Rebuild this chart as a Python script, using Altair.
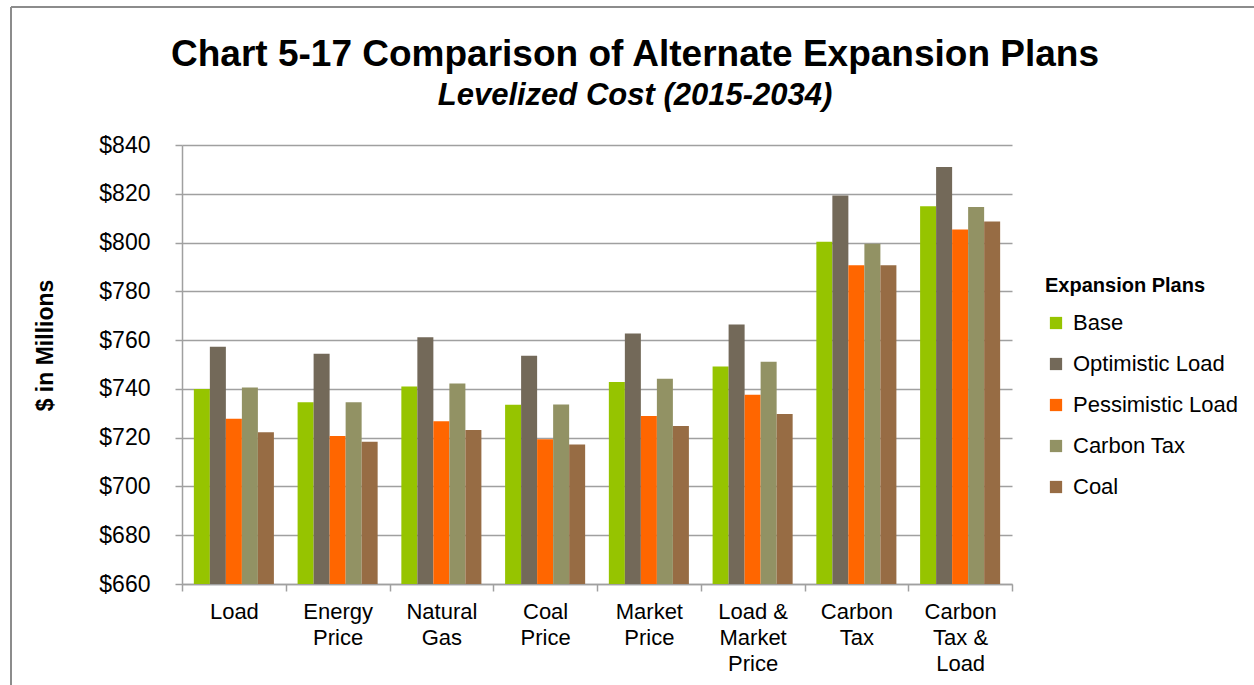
import altair as alt
import pandas as pd

# Scenario categories (x axis); "\n" marks a line break in the tick label
categories = [
    "Load",
    "Energy\nPrice",
    "Natural\nGas",
    "Coal\nPrice",
    "Market\nPrice",
    "Load &\nMarket\nPrice",
    "Carbon\nTax",
    "Carbon\nTax &\nLoad",
]

plans = ["Base", "Optimistic Load", "Pessimistic Load", "Carbon Tax", "Coal"]
plan_colors = ["#96C400", "#736959", "#FF6600", "#929264", "#976C44"]

# Levelized cost, $ millions, one list per expansion plan
base = [740.0, 734.5, 741.0, 733.5, 742.8, 749.2, 800.3, 814.9]
optimistic_load = [757.3, 754.4, 761.2, 753.6, 762.7, 766.4, 819.3, 831.0]
pessimistic_load = [727.8, 720.7, 726.7, 719.3, 728.9, 737.6, 790.7, 805.4]
carbon_tax = [740.6, 734.5, 742.2, 733.6, 744.2, 751.1, 799.5, 814.6]
coal = [722.2, 718.3, 723.1, 717.2, 724.8, 729.7, 790.7, 808.6]

y_ticks = list(range(660, 841, 20))

title_text = "Chart 5-17 Comparison of Alternate Expansion Plans"
subtitle_text = "Levelized Cost (2015-2034)"

series = [base, optimistic_load, pessimistic_load, carbon_tax, coal]
rows = []
for plan, values in zip(plans, series):
    for cat, v in zip(categories, values):
        rows.append({"category": cat, "plan": plan, "value": v})
df = pd.DataFrame(rows)

FONT = "Liberation Sans"
GRID = "#A0A0A0"

PLOT_W, PLOT_H = 830, 439
PAD_L, PAD_T = 182, 145

bars = (
    alt.Chart(df)
    .mark_bar()
    .encode(
        x=alt.X(
            "category:N",
            sort=categories,
            scale=alt.Scale(paddingInner=0, paddingOuter=0),
            axis=alt.Axis(
                title=None,
                labelAngle=0,
                labelExpr="split(datum.label, '\\n')",
                labelFont=FONT,
                labelFontSize=22,
                labelColor="#000000",
                labelLineHeight=26,
                labelPadding=10,
                labelBaseline="top",
                tickBand="extent",
                tickSize=7,
                tickColor=GRID,
                tickWidth=1.5,
                domainColor=GRID,
                domainWidth=1.5,
                grid=False,
            ),
        ),
        xOffset=alt.XOffset(
            "plan:N",
            sort=plans,
            scale=alt.Scale(paddingInner=0, paddingOuter=0.74),
        ),
        y=alt.Y(
            "value:Q",
            scale=alt.Scale(domain=[660, 840], zero=False, nice=False),
            axis=alt.Axis(
                values=y_ticks,
                format="$,.0f",
                title="$ in Millions",
                titleFont=FONT,
                titleFontSize=23,
                titleFontWeight="bold",
                titleColor="#000000",
                titleAngle=270,
                titleAlign="center",
                titleBaseline="middle",
                titleX=-137,
                titleY=200,
                labelFont=FONT,
                labelFontSize=23,
                labelColor="#000000",
                labelPadding=25,
                tickSize=7,
                tickColor=GRID,
                tickWidth=1.5,
                domainColor=GRID,
                domainWidth=1.5,
                grid=True,
                gridColor=GRID,
                gridWidth=1.5,
            ),
        ),
        y2=alt.datum(660),
        color=alt.Color(
            "plan:N",
            sort=plans,
            scale=alt.Scale(domain=plans, range=plan_colors),
            legend=alt.Legend(
                title="Expansion Plans",
                orient="none",
                legendX=863,
                legendY=131,
                titleFont=FONT,
                titleFontSize=20,
                titleFontWeight="bold",
                titleColor="#000000",
                titlePadding=16,
                labelFont=FONT,
                labelFontSize=22,
                labelColor="#000000",
                labelOffset=6,
                labelLimit=300,
                symbolType="square",
                symbolSize=150,
                symbolStrokeWidth=0,
                rowPadding=19,
            ),
        ),
    )
)

one_row = alt.Data(values=[{"k": 0}])

# Outer chart frame (left and top edges)
frame_left = alt.Chart(one_row).mark_rule(color="#8C8C8C", strokeWidth=2).encode(
    x=alt.value(-171), y=alt.value(-138), y2=alt.value(560)
)
frame_top = alt.Chart(one_row).mark_rule(color="#8C8C8C", strokeWidth=2).encode(
    x=alt.value(-171), x2=alt.value(1100), y=alt.value(-138)
)

# Chart title and italic subtitle
title = alt.Chart(one_row).mark_text(
    text=title_text, font=FONT, fontSize=37, fontWeight="bold",
    color="#000000", align="center", baseline="alphabetic",
).encode(x=alt.value(453), y=alt.value(-79))
subtitle = alt.Chart(one_row).mark_text(
    text=subtitle_text, font=FONT, fontSize=31, fontWeight="bold",
    fontStyle="italic", color="#000000", align="center", baseline="alphabetic",
).encode(x=alt.value(453), y=alt.value(-40))

chart = (
    alt.layer(frame_left, frame_top, title, subtitle, bars)
    .properties(
        width=PLOT_W,
        height=PLOT_H,
        autosize=alt.AutoSizeParams(type="none"),
        padding={"left": PAD_L, "top": PAD_T, "right": 1254 - PAD_L - PLOT_W, "bottom": 685 - PAD_T - PLOT_H},
        background="white",
    )
    .configure_view(stroke=None)
)

chart.save("out.html", embed_options={"renderer": "svg", "actions": False})
